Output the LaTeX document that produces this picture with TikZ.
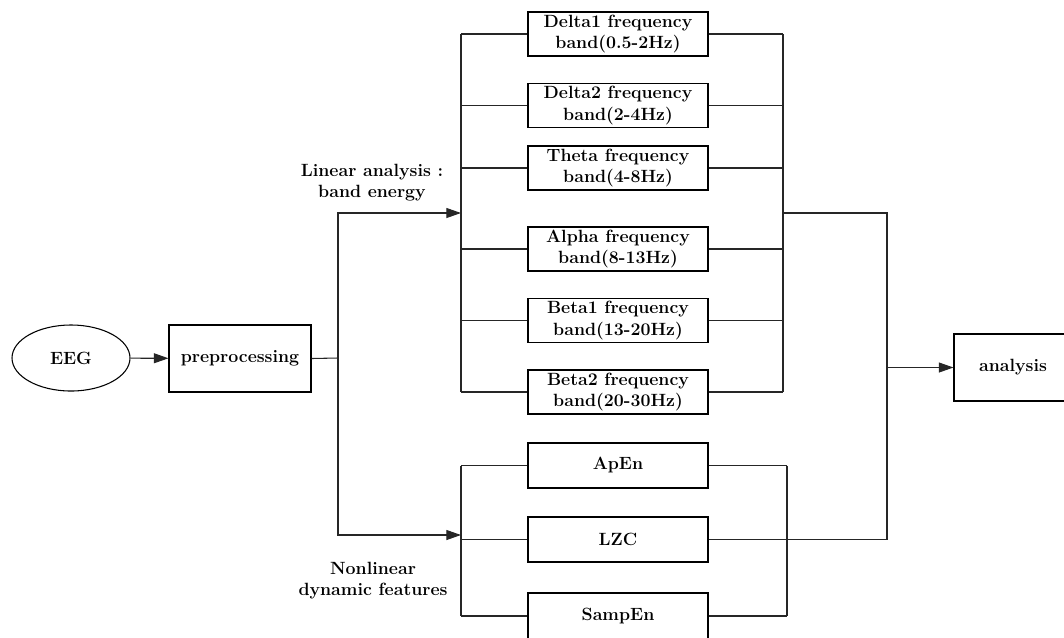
\documentclass[tikz,border=0pt]{standalone}
\usetikzlibrary{arrows.meta,shapes.geometric}
\begin{document}
\begin{tikzpicture}[x=0.75pt,y=-0.75pt,
  every node/.style={font=\fontsize{13.3}{15.8}\selectfont\bfseries, inner sep=1pt},
  box/.style={draw, line width=0.8pt, align=center, minimum width=135pt, minimum height=33pt},
  lbl/.style={align=center},
  conn/.style={line width=0.8pt, draw=black!85},
  arr/.style={conn, -{Triangle[length=11pt,width=7.5pt]}}
]
\useasboundingbox (0,0) rectangle (1064,637);
\clip (0,0) rectangle (1064,637);
% nodes
\node[draw, line width=0.8pt, ellipse, minimum width=88.5pt, minimum height=49.5pt, inner sep=0pt] (eeg) at (71,358) {EEG};
\node[box, minimum width=106.5pt, minimum height=50.25pt] (pre) at (240,358.5) {preprocessing};
\node[box] (d1) at (618,34) {Delta1 frequency\\band(0.5-2Hz)};
\node[box] (d2) at (618,105.5) {Delta2 frequency\\band(2-4Hz)};
\node[box] (th) at (618,168) {Theta frequency\\band(4-8Hz)};
\node[box] (al) at (618,249) {Alpha frequency\\band(8-13Hz)};
\node[box] (b1) at (618,320.5) {Beta1 frequency\\band(13-20Hz)};
\node[box] (b2) at (618,392) {Beta2 frequency\\band(20-30Hz)};
\node[box, minimum height=33.75pt] (ap) at (618,465.5) {ApEn};
\node[box, minimum height=33.75pt] (lz) at (618,539.5) {LZC};
\node[box, minimum height=34.5pt] (se) at (618,616) {SampEn};
\node[box, minimum width=88.5pt, minimum height=50.25pt] (an) at (1013,367.5) {analysis};
\node[lbl] (lin) at (372,183) {Linear analysis :\\band energy};
\node[lbl] (non) at (373,581) {Nonlinear\\dynamic features};
% bus coordinates
\coordinate (ub) at (461,0);
\coordinate (rb) at (783,0);
\coordinate (lrb) at (787,0);
\coordinate (fx) at (887,0);
\coordinate (jp) at (338,358);
\coordinate (la) at (461,213);
\coordinate (lb) at (461,535);
\coordinate (rj) at (783,213);
% connectors
\draw[arr] (eeg) -- (pre);
\draw[conn] (pre.east) -- (jp);
\draw[arr] (jp) |- (la);
\draw[arr] (jp) |- (lb);
\draw[conn] (d1.west -| ub) -- (b2.west -| ub);
\foreach \n in {d1,d2,th,al,b1,b2}{
  \draw[conn] (\n.west) -- (\n.west -| ub);
  \draw[conn] (\n.east) -- (\n.east -| rb);
}
\draw[conn] (d1.east -| rb) -- (b2.east -| rb);
\draw[conn] (ap.west -| ub) -- (se.west -| ub);
\foreach \n in {ap,lz,se}{
  \draw[conn] (\n.west) -- (\n.west -| ub);
}
\draw[conn] (ap.east) -- (ap.east -| lrb);
\draw[conn] (se.east) -- (se.east -| lrb);
\draw[conn] (ap.east -| lrb) -- (se.east -| lrb);
\draw[conn] (rj) -| (fx |- lz.east) -- (lz.east);
\draw[arr] (fx |- an.west) -- (an.west);
\end{tikzpicture}
\end{document}
